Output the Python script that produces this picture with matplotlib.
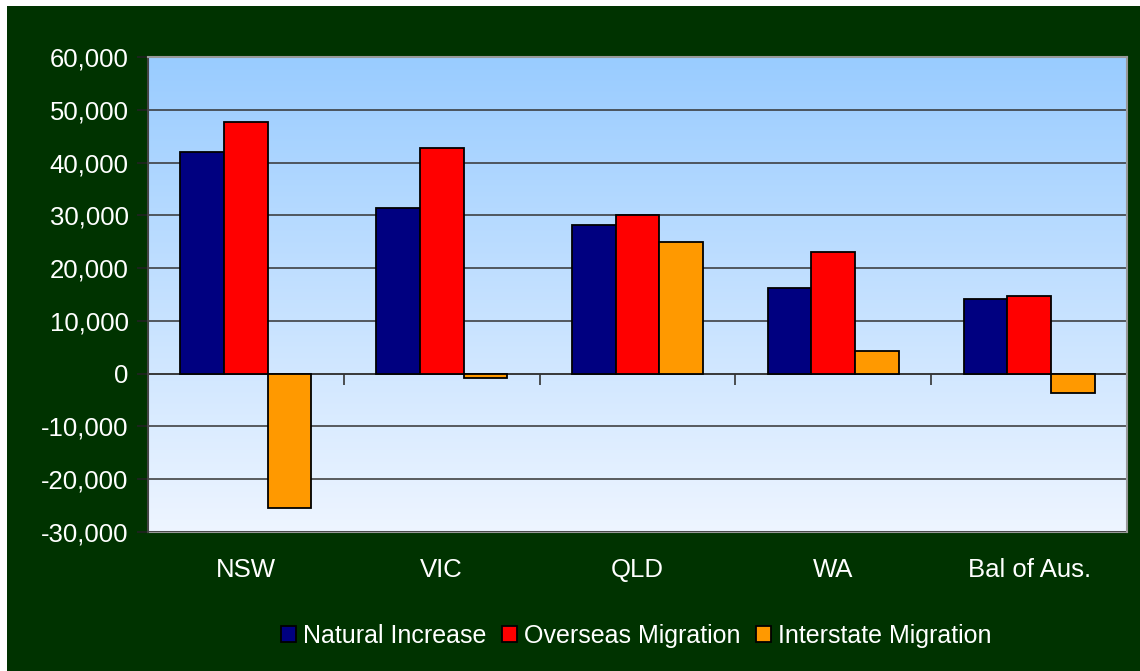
import numpy as np
import matplotlib
matplotlib.use("Agg")
import matplotlib.pyplot as plt
from matplotlib.colors import LinearSegmentedColormap
from matplotlib.patches import Rectangle
from matplotlib.ticker import FuncFormatter

plt.rcParams['font.family'] = ['Liberation Sans', 'DejaVu Sans']

# data
states = ["NSW", "VIC", "QLD", "WA", "Bal of Aus."]
natural_increase = [42000, 31400, 28100, 16300, 14100]
overseas_migration = [47700, 42800, 30000, 23100, 14800]
interstate_migration = [-25400, -800, 25000, 4200, -3700]
series_names = ["Natural Increase", "Overseas Migration", "Interstate Migration"]
series_colors = ["#000080", "#FF0000", "#FF9900"]

green = "#003300"

fig = plt.figure(figsize=(11.4, 6.71), dpi=100, facecolor="white")
# dark green chart area with a thin white margin top/left
fig.patches.append(Rectangle((7 / 1140, 0), 1 - 7 / 1140, 1 - 6 / 671,
                             transform=fig.transFigure, facecolor=green,
                             edgecolor="none", zorder=-10))

ax = fig.add_axes([148 / 1140, 139 / 671, 979 / 1140, 475 / 671])
ax.set_facecolor("white")

# gradient plot area
cmap = LinearSegmentedColormap.from_list("bg", ["#99CCFF", "#EEF5FF"])
ax.imshow(np.linspace(0, 1, 256).reshape(-1, 1), extent=[-0.5, 4.5, -30000, 60000],
          aspect="auto", cmap=cmap, zorder=0)

x = np.arange(len(states))
w = 0.223
for i, (vals, name, col) in enumerate(zip([natural_increase, overseas_migration, interstate_migration],
                                          series_names, series_colors)):
    ax.bar(x + (i - 1) * w, vals, width=w, color=col, edgecolor="black",
           linewidth=1.3, label=name, zorder=3)

ax.set_xlim(-0.5, 4.5)
ax.set_ylim(-30000, 60000)
ax.set_yticks(np.arange(-30000, 60001, 10000))
ax.yaxis.set_major_formatter(FuncFormatter(lambda v, p: f"{v:,.0f}"))
ax.yaxis.grid(True, color="#333333", linewidth=1.1, zorder=1)
ax.set_axisbelow(True)
ax.tick_params(axis="y", direction="out", length=8, width=1.2, color="#222222",
               labelcolor="white", labelsize=18.5, pad=6)

# x axis line sits on zero, tick marks between categories
ax.spines["bottom"].set_position(("data", 0))
ax.spines["bottom"].set_color("#333333")
ax.spines["bottom"].set_linewidth(1.1)
ax.spines["bottom"].set_zorder(2)
ax.set_xticks(np.arange(-0.5, 4.6, 1))
ax.set_xticklabels([])
ax.tick_params(axis="x", direction="out", length=8, width=1.2, color="#333333")

ax.spines["left"].set_color("#444444")
ax.spines["left"].set_linewidth(1.5)
for s in ["top", "right"]:
    ax.spines[s].set_color("#999999")
    ax.spines[s].set_linewidth(1.5)

sec = ax.secondary_xaxis("bottom")
sec.set_xticks(x)
sec.set_xticklabels(states)
sec.tick_params(length=0, labelcolor="white", labelsize=18.5, pad=19)
sec.spines["bottom"].set_color("#999999")
sec.spines["bottom"].set_linewidth(1.5)

leg = fig.legend(loc="center", bbox_to_anchor=(0.558, 0.052), ncol=3, frameon=False,
                 fontsize=18, handlelength=0.6, handleheight=0.6, handletextpad=0.3,
                 columnspacing=0.6, labelcolor="white")

fig.savefig("out.png", dpi=100, facecolor="white")
